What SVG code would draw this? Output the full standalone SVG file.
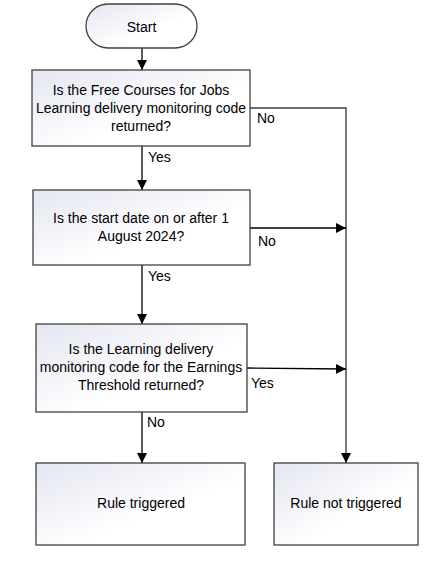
<svg xmlns="http://www.w3.org/2000/svg" width="444" height="562" viewBox="0 0 444 562">
<defs>
<linearGradient id="g" x1="0" y1="0" x2="1" y2="1">
<stop offset="0" stop-color="#e4e6f1"/>
<stop offset="0.6" stop-color="#ffffff"/>
<stop offset="1" stop-color="#ffffff"/>
</linearGradient>
<marker id="ah" viewBox="0 0 10 10" refX="10" refY="5" markerWidth="10" markerHeight="10" markerUnits="userSpaceOnUse" orient="auto">
<path d="M0,0 L10,5 L0,10 z" fill="#000"/>
</marker>
<style>
.n{fill:url(#g);stroke:#404040;stroke-width:1.3}
.t{font-family:"Liberation Sans",Arial,sans-serif;font-size:14px;fill:#000;text-anchor:middle}
.l{font-family:"Liberation Sans",Arial,sans-serif;font-size:14px;fill:#000}
.c{fill:none;stroke:#000;stroke-width:1.3}
.cg{fill:none;stroke:#404040;stroke-width:1.4}
</style>
</defs>
<rect width="444" height="562" fill="#fff"/>
<g id="connectors">
<line class="c" x1="142" y1="48" x2="142" y2="70" marker-end="url(#ah)"/>
<line class="c" x1="142" y1="146" x2="142" y2="190" marker-end="url(#ah)"/>
<line class="c" x1="142" y1="265" x2="142" y2="324" marker-end="url(#ah)"/>
<line class="c" x1="142" y1="412" x2="142" y2="463" marker-end="url(#ah)"/>
<polyline class="cg" points="250,108 346,108 346,463" marker-end="url(#ah)"/>
<line class="c" x1="250" y1="228" x2="346" y2="228" marker-end="url(#ah)"/>
<line class="c" x1="247" y1="368" x2="346" y2="369" marker-end="url(#ah)"/>
<text class="l" x="257" y="123">No</text>
<text class="l" x="148" y="162">Yes</text>
<text class="l" x="258" y="246">No</text>
<text class="l" x="148" y="281">Yes</text>
<text class="l" x="251" y="388">Yes</text>
<text class="l" x="147" y="427">No</text>
</g>
<g id="start">
<rect class="n" x="86" y="4" width="111" height="44" rx="22" ry="22"/>
<text class="t" x="141.5" y="32">Start</text>
</g>
<g id="q1">
<rect class="n" x="32" y="70" width="218" height="76"/>
<text class="t" x="141" y="95">Is the Free Courses for Jobs</text>
<text class="t" x="141" y="113">Learning delivery monitoring code</text>
<text class="t" x="141" y="131">returned?</text>
</g>
<g id="q2">
<rect class="n" x="33" y="190" width="217" height="75"/>
<text class="t" x="141" y="223">Is the start date on or after 1</text>
<text class="t" x="141" y="241">August 2024?</text>
</g>
<g id="q3">
<rect class="n" x="36" y="324" width="211" height="88"/>
<text class="t" x="141" y="354">Is the Learning delivery</text>
<text class="t" x="141" y="372">monitoring code for the Earnings</text>
<text class="t" x="141" y="390">Threshold returned?</text>
</g>
<g id="triggered">
<rect class="n" x="36" y="463" width="209" height="82"/>
<text class="t" x="141" y="508">Rule triggered</text>
</g>
<g id="not-triggered">
<rect class="n" x="274" y="463" width="144" height="82"/>
<text class="t" x="346" y="508">Rule not triggered</text>
</g>
</svg>
